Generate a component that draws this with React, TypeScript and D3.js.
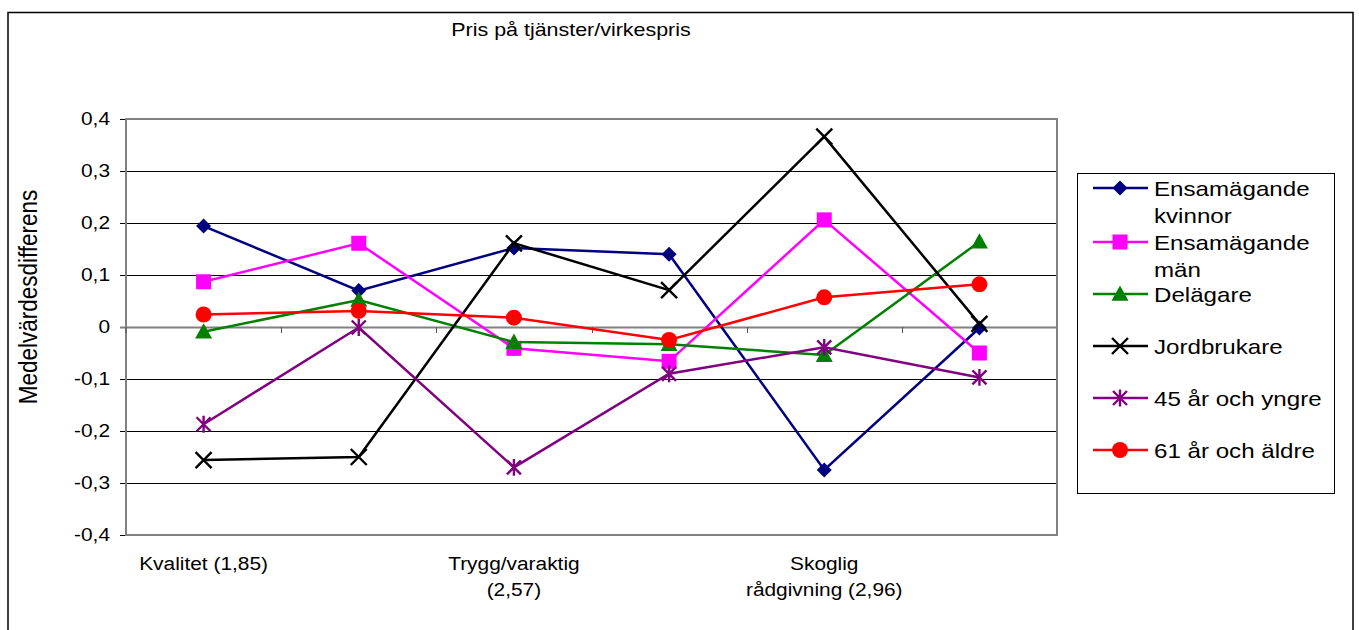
import React from "react";
import * as d3 from "d3";

const categories: string[][] = [
  ["Kvalitet (1,85)"],
  [],
  ["Trygg/varaktig", "(2,57)"],
  [],
  ["Skoglig", "rådgivning (2,96)"],
  [],
];

const seriesNames: string[][] = [
  ["Ensamägande", "kvinnor"],
  ["Ensamägande", "män"],
  ["Delägare"],
  ["Jordbrukare"],
  ["45 år och yngre"],
  ["61 år och äldre"],
];

const ensamKvinnor = [0.194, 0.07, 0.152, 0.14, -0.275, -0.002];
const ensamMan = [0.087, 0.161, -0.041, -0.066, 0.206, -0.05];
const delagare = [-0.009, 0.052, -0.029, -0.033, -0.054, 0.164];
const jordbrukare = [-0.256, -0.25, 0.161, 0.071, 0.366, 0.006];
const yngre45 = [-0.187, -0.001, -0.27, -0.09, -0.039, -0.097];
const aldre61 = [0.024, 0.031, 0.018, -0.025, 0.057, 0.082];

const seriesValues = [ensamKvinnor, ensamMan, delagare, jordbrukare, yngre45, aldre61];
const seriesColors = ["#000080", "#FF00FF", "#008000", "#000000", "#800080", "#FF0000"];
const seriesMarkers = ["diamond", "square", "triangle", "x", "asterisk", "circle"];

const yTicks = [0.4, 0.3, 0.2, 0.1, 0, -0.1, -0.2, -0.3, -0.4];
const title = "Pris på tjänster/virkespris";
const yTitle = "Medelvärdesdifferens";

const FONT = "'Liberation Sans', Arial, Helvetica, sans-serif";
const SX = 1.16;

const locale = d3.formatLocale({
  decimal: ",",
  thousands: " ",
  grouping: [3],
  currency: ["", " kr"],
  minus: "-",
});
const fmt = locale.format(".1~f");

function markerPath(kind: string, r: number): string {
  const p = d3.path();
  switch (kind) {
    case "diamond":
      p.moveTo(0, -r);
      p.lineTo(r, 0);
      p.lineTo(0, r);
      p.lineTo(-r, 0);
      p.closePath();
      break;
    case "square":
      p.rect(-r, -r, 2 * r, 2 * r);
      break;
    case "triangle":
      p.moveTo(0, -r);
      p.lineTo(r, r * 0.8);
      p.lineTo(-r, r * 0.8);
      p.closePath();
      break;
    case "x":
      p.moveTo(-r, -r);
      p.lineTo(r, r);
      p.moveTo(r, -r);
      p.lineTo(-r, r);
      break;
    case "asterisk":
      p.moveTo(-r, -r);
      p.lineTo(r, r);
      p.moveTo(r, -r);
      p.lineTo(-r, r);
      p.moveTo(0, -r * 1.2);
      p.lineTo(0, r * 1.2);
      break;
    case "circle":
      p.arc(0, 0, r, 0, Math.PI * 2);
      break;
  }
  return p.toString();
}

const markerSize: Record<string, number> = {
  diamond: 7.5,
  square: 7.5,
  triangle: 8.5,
  x: 8,
  asterisk: 7,
  circle: 8,
};

function Marker({ kind, color, x, y }: { kind: string; color: string; x: number; y: number }) {
  const stroked = kind === "x" || kind === "asterisk";
  return (
    <path
      d={markerPath(kind, markerSize[kind])}
      transform={`translate(${x},${y})`}
      fill={stroked ? "none" : color}
      stroke={color}
      strokeWidth={stroked ? 2.4 : 0}
    />
  );
}

function T({
  x,
  y,
  size,
  anchor = "start",
  children,
}: {
  x: number;
  y: number;
  size: number;
  anchor?: string;
  children: React.ReactNode;
}) {
  return (
    <text
      transform={`translate(${x},${y}) scale(${SX},1)`}
      fontFamily={FONT}
      fontSize={size}
      textAnchor={anchor}
      fill="#000"
    >
      {children}
    </text>
  );
}

export default function App() {
  const W = 1359;
  const H = 630;
  const plot = { left: 126, right: 1057, top: 119, bottom: 535 };

  const x = d3
    .scaleBand<number>()
    .domain(categories.map((_, i) => i))
    .range([plot.left, plot.right])
    .padding(0);
  const cx = (i: number) => (x(i) as number) + x.bandwidth() / 2;
  const y = d3.scaleLinear().domain([-0.4, 0.4]).range([plot.bottom, plot.top]);

  const line = d3
    .line<number>()
    .x((_, i) => cx(i))
    .y((d) => y(d));

  const legend = { left: 1077.5, top: 173.5, right: 1334.5, bottom: 493.5 };
  const legendRows = [188, 242, 294, 346, 398, 450];

  return (
    <svg
      width={W}
      height={H}
      style={{ position: "absolute", left: 0, top: 0, display: "block", background: "#fff" }}
    >
      <rect x={0} y={0} width={W} height={H} fill="#fff" />
      {/* outer chart frame */}
      <rect x={8} y={12.5} width={1345} height={640} fill="none" stroke="#000" strokeWidth={1.5} />

      <T x={571} y={36} size={18.5} anchor="middle">
        {title}
      </T>

      {/* gridlines */}
      {yTicks.map((t) => (
        <line
          key={"g" + t}
          x1={plot.left - 6}
          x2={plot.right}
          y1={Math.round(y(t)) + 0.5}
          y2={Math.round(y(t)) + 0.5}
          stroke={t === 0 ? "#808080" : "#000"}
          strokeWidth={t === 0 ? 2 : 1}
        />
      ))}

      {/* plot border */}
      <rect
        x={plot.left}
        y={plot.top}
        width={plot.right - plot.left}
        height={plot.bottom - plot.top}
        fill="none"
        stroke="#808080"
        strokeWidth={2}
      />

      {/* category ticks on zero axis */}
      {categories.map((_, i) =>
        i === 0 ? null : (
          <line
            key={"ct" + i}
            x1={Math.round(x(i) as number) + 0.5}
            x2={Math.round(x(i) as number) + 0.5}
            y1={y(0)}
            y2={y(0) + 6}
            stroke="#555"
            strokeWidth={1}
          />
        )
      )}
      <line x1={plot.left} x2={plot.left} y1={y(0)} y2={y(0) + 6} stroke="#555" strokeWidth={1} />

      {/* y tick labels */}
      {yTicks.map((t) => (
        <T key={"yl" + t} x={110} y={y(t) + 6} size={18} anchor="end">
          {fmt(t)}
        </T>
      ))}

      {/* y title */}
      <text
        transform={`translate(37,${297}) scale(${SX},1) rotate(-90)`}
        fontFamily={FONT}
        fontSize={22.5}
        textAnchor="middle"
        fill="#000"
      >
        {yTitle}
      </text>

      {/* category labels */}
      {categories.map((lines, i) =>
        lines.map((ln, j) => (
          <T key={"cl" + i + j} x={cx(i)} y={570 + j * 26} size={18} anchor="middle">
            {ln}
          </T>
        ))
      )}

      {/* series */}
      {seriesValues.map((vals, s) => (
        <g key={"s" + s}>
          <path d={line(vals) as string} fill="none" stroke={seriesColors[s]} strokeWidth={2.5} />
          {vals.map((v, i) => (
            <Marker key={i} kind={seriesMarkers[s]} color={seriesColors[s]} x={cx(i)} y={y(v)} />
          ))}
        </g>
      ))}

      {/* legend */}
      <rect
        x={legend.left}
        y={legend.top}
        width={legend.right - legend.left}
        height={legend.bottom - legend.top}
        fill="#fff"
        stroke="#000"
        strokeWidth={1}
      />
      {seriesNames.map((lines, s) => (
        <g key={"lg" + s}>
          <line
            x1={1093}
            x2={1148}
            y1={legendRows[s]}
            y2={legendRows[s]}
            stroke={seriesColors[s]}
            strokeWidth={2.5}
          />
          <Marker kind={seriesMarkers[s]} color={seriesColors[s]} x={1120} y={legendRows[s]} />
          {lines.map((ln, j) => (
            <T key={j} x={1154} y={legendRows[s] + 8 + j * 27} size={20.8}>
              {ln}
            </T>
          ))}
        </g>
      ))}
    </svg>
  );
}
